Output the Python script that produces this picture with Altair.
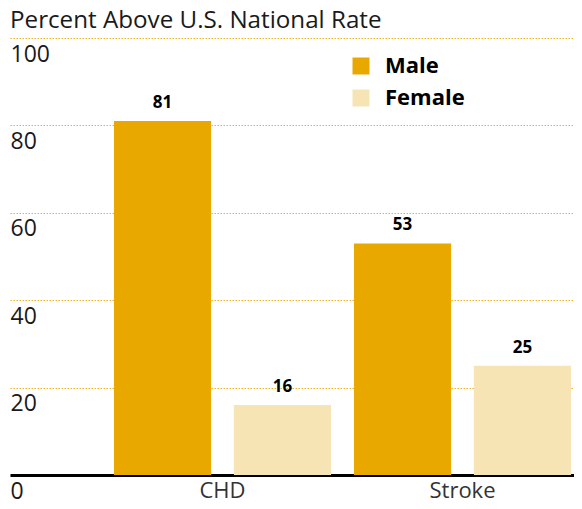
import altair as alt
import pandas as pd

causes = ["CHD", "CHD", "Stroke", "Stroke"]
sexes = ["Male", "Female", "Male", "Female"]
values = [81, 16, 53, 25]
y_ticks = [0, 20, 40, 60, 80, 100]
sex_order = ["Male", "Female"]
colors = ["#E8A800", "#F7E4B5"]
title_text = ["Percent Above U.S. National Rate"]

df = pd.DataFrame({"cause": causes, "sex": sexes, "value": values})
tdf = pd.DataFrame({"t": title_text})

FONT = "Open Sans"

base = alt.Chart(df)

x_enc = alt.X(
    "cause:N",
    scale=alt.Scale(paddingInner=0.0958, paddingOuter=0.2229, align=0.972),
    axis=alt.Axis(
        title=None, labelAngle=0, ticks=False, tickSize=0,
        domainColor="#000000", domainWidth=3,
        labelFontSize=22, labelColor="#333333", labelPadding=5,
        labelFont=FONT, grid=False,
    ),
)
xo_enc = alt.XOffset(
    "sex:N", sort=sex_order,
    scale=alt.Scale(paddingInner=0.19, paddingOuter=0),
)
y_enc = alt.Y(
    "value:Q",
    scale=alt.Scale(domain=[0, 100], nice=False),
    axis=alt.Axis(
        title=None, values=y_ticks, orient="left",
        labelAlign="left", labelBaseline="alphabetic", labelOffset=23,
        labelPadding=0, ticks=False, tickSize=0, domain=False,
        grid=True, gridColor="#EDB42A", gridDash=[1.5, 1.5], gridWidth=1,
        labelFontSize=23, labelColor="#1a1a1a", labelFont=FONT,
        labelFlush=False, labelOverlap=False,
    ),
)

bars = base.mark_bar().encode(
    x=x_enc,
    xOffset=xo_enc,
    y=y_enc,
    color=alt.Color(
        "sex:N", sort=sex_order,
        scale=alt.Scale(domain=sex_order, range=colors),
        legend=alt.Legend(
            title=None, orient="none", legendX=340, legendY=17,
            direction="vertical", padding=0,
            symbolType="square", symbolSize=289, symbolStrokeWidth=0,
            symbolOpacity=1,
            labelFontSize=22, labelFontWeight="bold", labelColor="#000000",
            labelFont=FONT, labelOffset=13, rowPadding=10,
        ),
    ),
)

labels = base.mark_text(
    dy=-13, baseline="alphabetic", align="center",
    fontSize=17, fontWeight="bold", color="#000000", font=FONT,
).encode(
    x=alt.X("cause:N"),
    xOffset=alt.XOffset("sex:N", sort=sex_order),
    y=alt.Y("value:Q"),
    text=alt.Text("value:Q"),
)

title = alt.Chart(tdf).mark_text(
    align="left", baseline="alphabetic", fontSize=24.2, color="#1a1a1a",
    font=FONT,
).encode(
    x=alt.value(0), y=alt.value(-10), text="t:N",
)

chart = (
    alt.layer(bars, labels, title)
    .properties(
        width=564, height=437,
        autosize=alt.AutoSizeParams(type="none"),
        padding={"left": 2, "top": 30, "right": 0, "bottom": 26},
    )
    .configure_view(stroke=None)
)

chart.save("out.html", embed_options={"renderer": "svg", "actions": False})
